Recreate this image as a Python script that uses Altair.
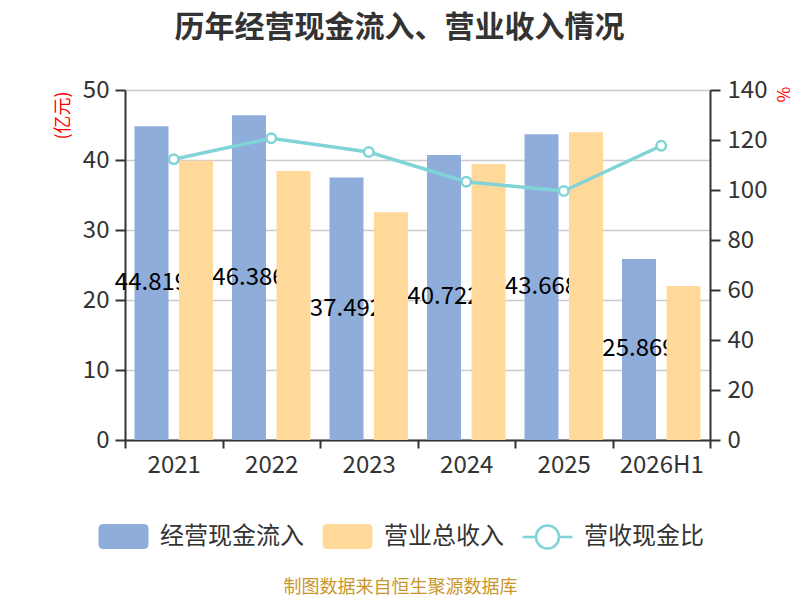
import altair as alt
import pandas as pd

# values
years = ["2021", "2022", "2023", "2024", "2025", "2026H1"]
cash_in = [44.819, 46.386, 37.492, 40.722, 43.668, 25.869]   # 经营现金流入 (亿元)
revenue = [39.91, 38.43, 32.55, 39.42, 43.95, 22.0]          # 营业总收入 (亿元)
ratio = [112.3, 120.7, 115.2, 103.3, 99.6, 117.7]            # 营收现金比 (%)

names = ["经营现金流入", "营业总收入", "营收现金比"]
colors = ["#8eaddb", "#ffd99a", "#80d4d7"]

font = "Noto Sans CJK SC"

bars = pd.DataFrame({
    "year": years * 2,
    "series": [names[0]] * len(years) + [names[1]] * len(years),
    "value": cash_in + revenue,
})
line = pd.DataFrame({"year": years, "series": names[2], "ratio": ratio})
keys = pd.DataFrame({"series": names})

# legend symbols: rounded boxes for the bars, line + hollow circle for the ratio
rect_path = ("M-0.8,-0.5L0.8,-0.5Q1,-0.5,1,-0.3L1,0.3Q1,0.5,0.8,0.5"
             "L-0.8,0.5Q-1,0.5,-1,0.3L-1,-0.3Q-1,-0.5,-0.8,-0.5Z")
line_path = ("M-1,0L-0.46,0M0.46,0L1,0M0.46,0A0.46,0.46,0,1,1,-0.46,0"
             "A0.46,0.46,0,1,1,0.46,0Z")

legend = alt.Legend(
    title=None, orient="none", direction="horizontal",
    legendX=-28, legendY=420,
    symbolSize=2500, labelFontSize=24, labelColor="#333", labelFont=font,
    labelOffset=10, columnPadding=13, labelLimit=300,
    symbolStrokeWidth=2.5, symbolOpacity=1,
)

x = alt.X(
    "year:N", sort=years, title="制图数据来自恒生聚源数据库",
    scale=alt.Scale(paddingInner=0, paddingOuter=0),
    axis=alt.Axis(
        labelAngle=0, labelFontSize=24, labelColor="#333", labelPadding=5,
        tickBand="extent", tickSize=8, tickWidth=2, tickColor="#333",
        domainColor="#333", domainWidth=2, grid=False,
        titleColor="#c9962c", titleFontSize=18, titleFontWeight="normal",
        titleX=275, titleY=147, titleBaseline="middle", titleAlign="center",
    ),
)
xoff = alt.XOffset("series:N", scale=alt.Scale(domain=names[:2], paddingInner=0.236, paddingOuter=0.2135))

left_scale = alt.Scale(domain=[0, 50])
left_axis = alt.Axis(
    title="(亿元)", titleColor="red", titleFontSize=18, titleFontWeight="normal",
    titleX=-62, titleY=25, titleAlign="center", titleBaseline="middle", titleAngle=270,
    values=[0, 10, 20, 30, 40, 50], labelFontSize=24, labelColor="#333", labelPadding=6,
    tickSize=10, tickWidth=2, tickColor="#333", domainColor="#333", domainWidth=2,
    grid=True, gridColor="#cccccc", gridWidth=1.5,
)

base = alt.Chart(bars)

blue = base.transform_filter(alt.datum.series == names[0]).mark_bar(color=colors[0]).encode(
    x=x, xOffset=xoff,
    y=alt.Y("value:Q", scale=left_scale, axis=left_axis),
)

labels = base.transform_filter(alt.datum.series == names[0]).transform_calculate(
    mid="datum.value / 2"
).mark_text(fontSize=24, color="black", align="center", baseline="middle").encode(
    x=x, xOffset=xoff,
    y=alt.Y("mid:Q", scale=left_scale, axis=left_axis),
    text=alt.Text("value:Q", format=".3f"),
)

orange = base.transform_filter(alt.datum.series == names[1]).mark_bar(color=colors[1]).encode(
    x=x, xOffset=xoff,
    y=alt.Y("value:Q", scale=left_scale, axis=left_axis),
)

right_axis = alt.Axis(
    title="%", orient="right", titleColor="red", titleFontSize=17, titleFontWeight="normal",
    titleX=71, titleY=4, titleAlign="center", titleBaseline="middle", titleAngle=90,
    values=[0, 20, 40, 60, 80, 100, 120, 140], labelFontSize=24, labelColor="#333", labelPadding=7,
    tickSize=10, tickWidth=2, tickColor="#333", domainColor="#333", domainWidth=2, grid=False,
)
right_scale = alt.Scale(domain=[0, 140])

ratio_line = alt.Chart(line).mark_line(strokeWidth=3.5, color=colors[2]).encode(
    x=x,
    y=alt.Y("ratio:Q", scale=right_scale, axis=right_axis),
)
ratio_pts = alt.Chart(line).mark_point(
    filled=True, fill="white", stroke=colors[2], strokeWidth=2.5, size=90, opacity=1
).encode(
    x=x,
    y=alt.Y("ratio:Q", scale=right_scale, axis=right_axis),
)

# invisible layer that only carries the legend
key_layer = alt.Chart(keys).mark_point(filled=True, opacity=0).encode(
    fill=alt.Fill("series:N", scale=alt.Scale(domain=names, range=[colors[0], colors[1], "#ffffff"]), legend=legend),
    stroke=alt.Stroke("series:N", scale=alt.Scale(domain=names, range=["transparent", "transparent", colors[2]]), legend=legend),
    shape=alt.Shape("series:N", scale=alt.Scale(domain=names, range=[rect_path, rect_path, line_path]), legend=legend),
)

left = alt.layer(blue, labels, orange)
right = alt.layer(ratio_line, ratio_pts)

chart = alt.layer(left, right, key_layer).resolve_scale(y="independent").properties(
    width=585, height=350,
    title=alt.TitleParams(
        "历年经营现金流入、营业收入情况", fontSize=30, fontWeight="bold", color="#333",
        anchor="middle", dx=-18, offset=35, font=font,
    ),
    autosize=alt.AutoSizeParams(type="none"),
    padding={"left": 117, "top": 82, "right": 82, "bottom": 160},
).configure(font=font).configure_view(stroke=None)

chart.save("out.html", embed_options={"renderer": "svg", "actions": False})
